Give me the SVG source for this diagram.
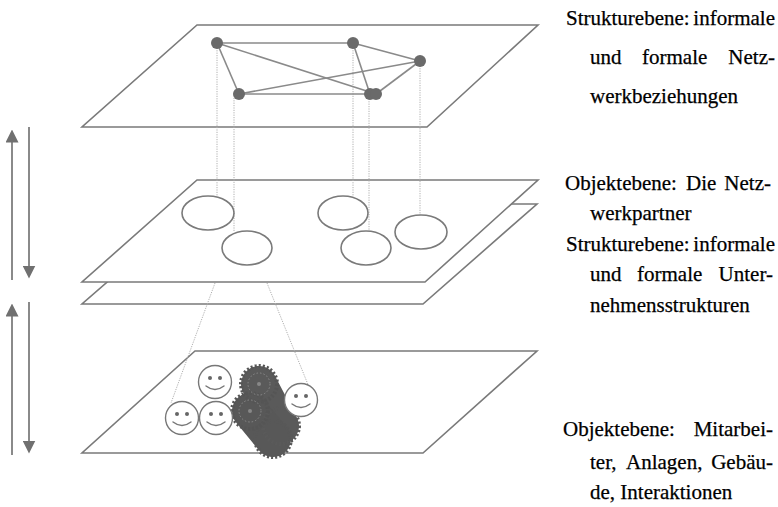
<svg xmlns="http://www.w3.org/2000/svg" width="778" height="507" viewBox="0 0 778 507">
  <style>
    .plane { fill: #fff; stroke: #7a7a7a; stroke-width: 1.6; stroke-linejoin: miter; }
    .edge { stroke: #8a8a8a; stroke-width: 1.6; fill: none; }
    .node { fill: #6a6a6a; }
    .proj { stroke: #b0b0b0; stroke-width: 1; stroke-dasharray: 1.2 1.2; fill: none; }
    .partner { fill: none; stroke: #7a7a7a; stroke-width: 1.6; }
    .face { fill: #fff; stroke: #777; stroke-width: 1.4; }
    .eye { fill: #666; }
    .smile { fill: none; stroke: #777; stroke-width: 1.4; stroke-linecap: round; }
    .axis { stroke: #8a8a8a; stroke-width: 2; }
    .lbl { font-family: "Liberation Serif", "Times New Roman", serif; font-size: 21px; fill: #000; stroke: #000; stroke-width: 0.25; }
    .end { text-anchor: end; }
  </style>
  <defs>
    <marker id="head" viewBox="0 0 10 10" refX="5" refY="5" markerWidth="6.5" markerHeight="6.5" orient="auto-start-reverse" markerUnits="strokeWidth">
      <path d="M0,0 L10,5 L0,10 Z" fill="#707070"/>
    </marker>
    <g id="smiley">
      <circle class="face" r="16.5"/>
      <circle class="eye" cx="-5" cy="-4" r="2"/>
      <circle class="eye" cx="5" cy="-4" r="2"/>
      <path class="smile" d="M-9,4 Q0,11 9,4"/>
    </g>
  </defs>

  <rect width="778" height="507" fill="#fff"/>

  <!-- layer planes -->
  <g id="plane-network-structure">
    <polygon class="plane" points="197,25 538,25 427,127 82,127"/>
  </g>
  <g id="plane-org-structure">
    <polygon class="plane" points="197,204 537,204 423,304 82,304"/>
  </g>
  <g id="plane-partners">
    <polygon class="plane" points="197,180 538,180 425,282 82,282"/>
  </g>
  <g id="plane-objects">
    <polygon class="plane" points="195,351 537,351 423,453 82,453"/>
  </g>

  <!-- projection lines between layers -->
  <g id="connectors">
    <line class="proj" x1="217" y1="43" x2="217" y2="196"/>
    <line class="proj" x1="234" y1="93" x2="234" y2="231"/>
    <line class="proj" x1="353" y1="43" x2="353" y2="196"/>
    <line class="proj" x1="369" y1="94" x2="369" y2="231"/>
    <line class="proj" x1="420" y1="61" x2="420" y2="215"/>
    <line class="proj" x1="215" y1="283" x2="171" y2="403"/>
    <line class="proj" x1="267" y1="283" x2="311" y2="392"/>

    <!-- network ties -->
    <line class="edge" x1="217" y1="43" x2="353" y2="43"/>
    <line class="edge" x1="217" y1="43" x2="239" y2="94"/>
    <line class="edge" x1="217" y1="43" x2="376" y2="94"/>
    <line class="edge" x1="353" y1="43" x2="420" y2="61"/>
    <line class="edge" x1="353" y1="43" x2="370" y2="94"/>
    <line class="edge" x1="420" y1="61" x2="239" y2="94"/>
    <line class="edge" x1="420" y1="61" x2="376" y2="94"/>
    <line class="edge" x1="239" y1="94" x2="372" y2="94"/>

    <!-- level arrows -->
    <line class="axis" x1="12" y1="280" x2="12" y2="136" marker-end="url(#head)"/>
    <line class="axis" x1="29" y1="127" x2="29" y2="272" marker-end="url(#head)"/>
    <line class="axis" x1="12" y1="455" x2="12" y2="310" marker-end="url(#head)"/>
    <line class="axis" x1="29" y1="302" x2="29" y2="447" marker-end="url(#head)"/>
  </g>

  <!-- network nodes -->
  <g id="node-a"><circle class="node" cx="217" cy="43" r="6"/></g>
  <g id="node-b"><circle class="node" cx="353" cy="43" r="6"/></g>
  <g id="node-c"><circle class="node" cx="420" cy="61" r="6"/></g>
  <g id="node-d"><circle class="node" cx="239" cy="94" r="6"/></g>
  <g id="node-e"><circle class="node" cx="370" cy="94" r="6"/><circle class="node" cx="376" cy="94" r="6"/></g>

  <!-- network partners -->
  <g id="partner-1"><ellipse class="partner" cx="208" cy="213" rx="26" ry="17"/></g>
  <g id="partner-2"><ellipse class="partner" cx="247" cy="248" rx="25" ry="17"/></g>
  <g id="partner-3"><ellipse class="partner" cx="343" cy="213" rx="25" ry="17"/></g>
  <g id="partner-4"><ellipse class="partner" cx="366" cy="248" rx="25" ry="17"/></g>
  <g id="partner-5"><ellipse class="partner" cx="421" cy="232" rx="26" ry="17"/></g>

  <!-- equipment: gears -->
  <g id="gears">
    <line x1="259" y1="384" x2="281" y2="426" stroke="#5a5a5a" stroke-width="36" stroke-linecap="round"/>
    <line x1="250" y1="411" x2="273" y2="439" stroke="#585858" stroke-width="36" stroke-linecap="round"/>
    <circle cx="281" cy="426" r="18" fill="none" stroke="#5a5a5a" stroke-width="4" stroke-dasharray="2 2"/>
    <circle cx="273" cy="439" r="18" fill="none" stroke="#585858" stroke-width="4" stroke-dasharray="2 2"/>
    <circle cx="259" cy="384" r="18" fill="none" stroke="#555" stroke-width="4" stroke-dasharray="2 2"/>
    <circle cx="250" cy="411" r="18" fill="none" stroke="#555" stroke-width="4" stroke-dasharray="2 2"/>
    <circle cx="259" cy="384" r="11" fill="none" stroke="#8a8a8a" stroke-width="1" stroke-dasharray="1.5 2"/>
    <circle cx="250" cy="411" r="11" fill="none" stroke="#8a8a8a" stroke-width="1" stroke-dasharray="1.5 2"/>
    <circle cx="259" cy="384" r="2" fill="#888"/>
    <circle cx="250" cy="411" r="2" fill="#888"/>
  </g>

  <!-- employees -->
  <g id="employee-1"><use href="#smiley" x="215" y="382"/></g>
  <g id="employee-2"><use href="#smiley" x="182" y="418"/></g>
  <g id="employee-3"><use href="#smiley" x="216" y="418"/></g>
  <g id="employee-4"><use href="#smiley" x="301" y="400"/></g>

  <!-- layer descriptions (justified: words placed individually) -->
  <g id="label-network-structure" class="lbl">
    <text x="566" y="25">Strukturebene:</text>
    <text class="end" x="775" y="25">informale</text>
    <text x="590" y="64">und</text>
    <text x="642" y="64">formale</text>
    <text class="end" x="775" y="64">Netz-</text>
    <text x="590" y="103">werkbeziehungen</text>
  </g>
  <g id="label-partners" class="lbl">
    <text x="565" y="190">Objektebene:</text>
    <text x="686" y="190">Die</text>
    <text class="end" x="771" y="190">Netz-</text>
    <text x="590" y="220">werkpartner</text>
  </g>
  <g id="label-org-structure" class="lbl">
    <text x="566" y="251">Strukturebene:</text>
    <text class="end" x="775" y="251">informale</text>
    <text x="590" y="281">und</text>
    <text x="637" y="281">formale</text>
    <text class="end" x="773" y="281">Unter-</text>
    <text x="590" y="312">nehmensstrukturen</text>
  </g>
  <g id="label-objects" class="lbl">
    <text x="563" y="436">Objektebene:</text>
    <text class="end" x="773" y="436">Mitarbei-</text>
    <text x="590" y="469">ter,</text>
    <text x="626" y="469">Anlagen,</text>
    <text class="end" x="773" y="469">Gebäu-</text>
    <text x="590" y="499">de, Interaktionen</text>
  </g>
</svg>
